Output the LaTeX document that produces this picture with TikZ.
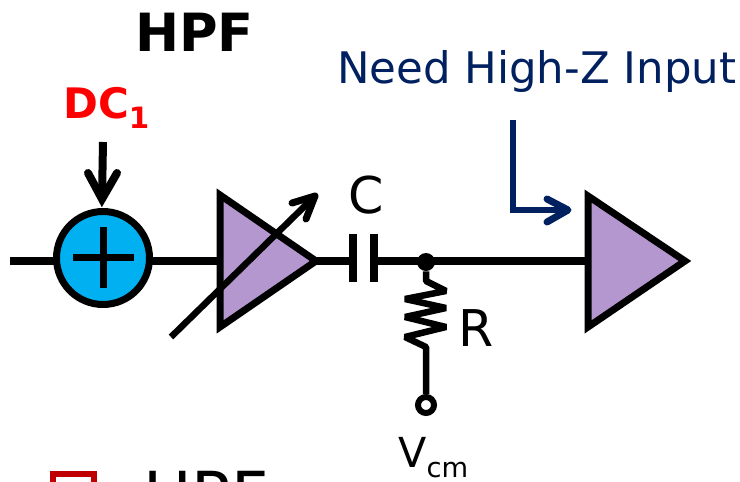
\documentclass[tikz,border=0pt]{standalone}
\usepackage{fontspec}
\setmainfont{DejaVu Sans}
\definecolor{tripurple}{HTML}{B597D0}
\definecolor{sumblue}{HTML}{00B0F0}
\definecolor{navy}{HTML}{002060}
\definecolor{hpfred}{HTML}{FF0000}
\definecolor{boxred}{HTML}{C00000}
\tikzset{
  wire/.style={line width=8.5*0.75pt,draw=black},
  thin wire/.style={line width=6.5*0.75pt,draw=black,line join=bevel},
  amp/.style={line width=7*0.75pt,draw=black,fill=tripurple,line join=miter},
  barbed/.style={line width=7*0.75pt,line cap=round,line join=round,draw=black},
  lbl/.style={inner sep=0pt,anchor=base west,text=black},
}
\begin{document}
\begin{tikzpicture}[x=0.75pt,y=-0.75pt]
\useasboundingbox (0,0) rectangle (740,482);
\clip (0,0) rectangle (740,482);
% named points
\coordinate (in) at (10,261);
\coordinate (a1t) at (220,195);
\coordinate (a1w) at (220,261);
\coordinate (a1b) at (220,327);
\coordinate (a1o) at (316,261);
\coordinate (cl) at (353,261);
\coordinate (cr) at (374,261);
\coordinate (a2w) at (588,261);
\coordinate (a2t) at (588,196);
\coordinate (a2b) at (588,327);
\coordinate (a2o) at (685,261);
% wires
\draw[wire] (in) -- (a1w);
\draw[wire] (a1o) -- (cl);
\draw[wire] (cr) -- (a2w);
% summer
\node[circle,draw=black,fill=sumblue,line width=7*0.75pt,minimum size=93*0.75pt,inner sep=0pt] (sum) at (103,258) {};
\draw[line width=7*0.75pt] (73,257) -- (134,257);
\draw[line width=7*0.75pt] (103,227) -- (103,288);
% amplifiers
\draw[amp] (a1t) -- (a1o) -- (a1b) -- cycle;
\draw[amp] (a2t) -- (a2o) -- (a2b) -- cycle;
% variable gain arrow
\coordinate (vs) at (171,337);
\coordinate (ve) at (314,197);
\draw[line width=6.5*0.75pt] (vs) -- (ve);
\draw[barbed] (292,203) -- (315,196) -- (306,219);
% capacitor
\draw[line width=8*0.75pt] (353,234) -- (353,282);
\draw[line width=8*0.75pt] (374,234) -- (374,282);
% resistor
\node[circle,fill=black,minimum size=18*0.75pt,inner sep=0pt] (dot) at (426,262) {};
\node[circle,draw=black,fill=white,line width=6*0.75pt,minimum size=16*0.75pt,inner sep=0pt] (vc) at (426,405) {};
\draw[thin wire] (dot) -- (426,281) -- (446,291) -- (405,299) -- (446,308) -- (405,317) -- (446,327) -- (405,337) -- (426,347) -- (vc);
% labels
\node[lbl,font=\bfseries\fontsize{39.5}{39.5}\selectfont] (hpf) at (135,51) {HPF};
\node[lbl,text=hpfred,font=\bfseries\fontsize{31.5}{31.5}\selectfont] (dc) at (63,118) {DC\raisebox{-7.5pt}{\fontsize{22}{22}\selectfont 1}};
\node[lbl,text=navy,font=\fontsize{32.6}{32.6}\selectfont] (need) at (337,83) {Need High-Z Input};
\node[lbl,font=\fontsize{38}{38}\selectfont] (c) at (348,213) {C};
\node[lbl,font=\fontsize{38}{38}\selectfont] (r) at (458,346) {R};
\node[lbl,font=\fontsize{31}{31}\selectfont] (v) at (398,467) {V\raisebox{-7.5pt}{\fontsize{20.5}{20.5}\selectfont cm}};
% DC arrow
\draw[line width=8*0.75pt] (103,142) -- (102,198);
\draw[line width=8*0.75pt,line cap=round,line join=miter,miter limit=10] (88,173) -- (102,199) -- (117,173);
% navy arrow
\draw[line width=6.5*0.75pt,draw=navy,line join=miter] (513,120) -- (513,210) -- (566,210);
\draw[barbed,draw=navy] (547,199) -- (568,210) -- (547,222);
% bottom bullet and text
\draw[line width=6*0.75pt,draw=boxred] (53,474) rectangle (93.5,520);
\node[lbl,font=\fontsize{48.6}{48.6}\selectfont] (hp2) at (143,518) {HPF};
\end{tikzpicture}
\end{document}
